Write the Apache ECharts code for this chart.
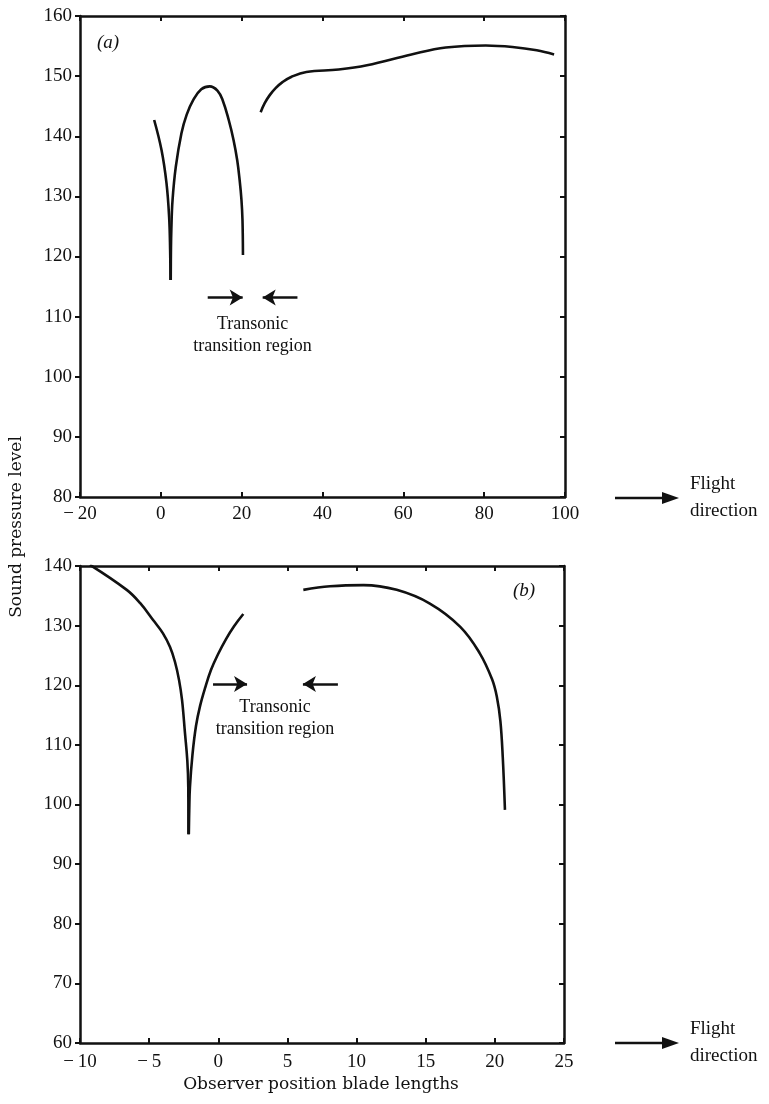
<!DOCTYPE html>
<html>
<head>
<meta charset="utf-8">
<title>Sound pressure level</title>
<script src="https://cdn.jsdelivr.net/npm/echarts@6/dist/echarts.min.js"></script>
<style>
html, body { margin: 0; padding: 0; background: #fff; }
#chart { width: 769px; height: 1104px; }
</style>
</head>
<body>
<div id="chart"></div>
<script>
// panel (a): observer position vs SPL
const aDip = [[-1.65, 142.7], [0.17, 137.7], [1.4, 132.2], [2.05, 126.6], [2.3, 121.1], [2.39, 116.1]]
const aArch = [[2.45, 116.1], [2.5, 121], [2.6, 124.5], [2.9, 129.4], [3.7, 134.9], [5.1, 140.5], [6.4, 143.6],
  [8.0, 146.0], [10.0, 147.8], [12.1, 148.3], [14.0, 147.6], [15.3, 146.0], [16.8, 142.7], [18.0, 139.35],
  [18.9, 136.0], [19.5, 132.7], [19.95, 129.4], [20.2, 126.1], [20.32, 120.25]]
const aFar = [[24.7, 144.0], [25.7, 145.5], [26.9, 146.8], [28.4, 148.0], [30.1, 149.0], [32.35, 149.9],
  [36, 150.7], [44, 151.1], [51, 151.8], [62, 153.6], [70.5, 154.75], [80.4, 155.1], [87, 154.85],
  [93, 154.3], [97.3, 153.6]]
const aArrows = [[11.6, 20.25, 113.2], [33.8, 25.2, 113.2]]

// panel (b)
const bDip = [[-9.28, 140.2], [-6.62, 136.0], [-5.66, 133.8], [-4.7, 130.9], [-4.0, 128.7], [-3.49, 126.4],
  [-3.13, 123.9], [-2.84, 120.9], [-2.62, 117.5], [-2.41, 112.0], [-2.24, 107.4], [-2.17, 102.9], [-2.16, 95]]
const bRise = [[-2.13, 95], [-2.1, 99], [-2.05, 102.9], [-1.87, 108.3], [-1.61, 113.2], [-1.32, 116.5],
  [-0.96, 119.5], [-0.53, 122.55], [-0.02, 125.2], [0.56, 127.75], [1.14, 129.9], [1.81, 131.95]]
const bFar = [[6.15, 136.0], [8.08, 136.6], [10.5, 136.8], [12.9, 136.0], [15.3, 133.7], [17.5, 129.8],
  [18.9, 125.4], [19.8, 121.0], [20.15, 118.0], [20.4, 114.0], [20.57, 108], [20.73, 99.1]]
const bArrows = [[-0.38, 2.08, 120.2], [8.65, 6.12, 120.2]]

const font = 'Liberation Serif'
const wideFont = 'DejaVu Serif'
const ink = '#111'

function fmt(v) {
  return v < 0 ? '\u2212\u2009' + Math.abs(v) : String(v)
}

function xAxes(grid, min, max, interval, margin) {
  return [
    {
      type: 'value', gridIndex: grid, min: min, max: max, interval: interval, position: 'bottom',
      axisLine: { onZero: false, lineStyle: { color: ink, width: 2.5 } },
      axisTick: { inside: true, length: 5, lineStyle: { color: ink, width: 2 } },
      axisLabel: { color: ink, fontFamily: font, fontSize: 19, margin: margin, formatter: fmt },
      splitLine: { show: false }
    },
    {
      type: 'value', gridIndex: grid, min: min, max: max, interval: interval, position: 'top',
      axisLine: { onZero: false, lineStyle: { color: ink, width: 2.5 } },
      axisTick: { inside: true, length: 5, lineStyle: { color: ink, width: 2 } },
      axisLabel: { show: false },
      splitLine: { show: false }
    }
  ]
}

function yAxes(grid, min, max) {
  return [
    {
      type: 'value', gridIndex: grid, min: min, max: max, interval: 10, position: 'left',
      axisLine: { onZero: false, lineStyle: { color: ink, width: 2.5 } },
      axisTick: { inside: false, length: 5, lineStyle: { color: ink, width: 2 } },
      axisLabel: { color: ink, fontFamily: font, fontSize: 19, margin: 8 },
      splitLine: { show: false }
    },
    {
      type: 'value', gridIndex: grid, min: min, max: max, interval: 10, position: 'right',
      axisLine: { onZero: false, lineStyle: { color: ink, width: 2.5 } },
      axisTick: { inside: true, length: 5, lineStyle: { color: ink, width: 2 } },
      axisLabel: { show: false },
      splitLine: { show: false }
    }
  ]
}

function curve(data, xi, yi, extra) {
  return Object.assign({
    type: 'line', data: data, xAxisIndex: xi, yAxisIndex: yi,
    showSymbol: false, smooth: 0.4, silent: true,
    lineStyle: { color: ink, width: 2.6 }
  }, extra || {})
}

function arrows(list) {
  return {
    silent: true, symbol: ['none', 'arrow'], symbolSize: [12, 13],
    label: { show: false },
    lineStyle: { color: ink, width: 2.5, type: 'solid' },
    data: list.map(a => [{ coord: [a[0], a[2]] }, { coord: [a[1], a[2]] }])
  }
}

let chart = echarts.init(document.getElementById('chart'))

let option = {
  animation: false,
  backgroundColor: '#fff',
  grid: [
    { left: 80, top: 16, width: 485, height: 481 },
    { left: 80, top: 566, width: 484, height: 477 }
  ],
  xAxis: xAxes(0, -20, 100, 20, 8).concat(xAxes(1, -10, 25, 5, 10)),
  yAxis: yAxes(0, 80, 160).concat(yAxes(1, 60, 140)),
  series: [
    curve(aDip, 0, 0, { markLine: arrows(aArrows) }),
    curve(aArch, 0, 0),
    curve(aFar, 0, 0),
    curve(bDip, 2, 2, { markLine: arrows(bArrows) }),
    curve(bRise, 2, 2),
    curve(bFar, 2, 2)
  ]
}
chart.setOption(option)

// annotation text anchored in data coordinates
const noteA = [22.7, 110.6]
const noteB = [4.1, 118.2]

function note(grid, pos) {
  let p = chart.convertToPixel({ gridIndex: grid }, pos)
  return {
    type: 'text', x: p[0], y: p[1], silent: true,
    style: {
      text: 'Transonic\ntransition region', fill: ink, font: '18px "' + font + '"',
      align: 'center', verticalAlign: 'top', lineHeight: 22
    }
  }
}

function flight(y) {
  return [
    {
      type: 'line', silent: true,
      shape: { x1: 615, y1: y, x2: 664, y2: y },
      style: { stroke: ink, lineWidth: 2.5 }
    },
    {
      type: 'polygon', silent: true,
      shape: { points: [[662, y - 6], [679, y], [662, y + 6]] },
      style: { fill: ink }
    },
    {
      type: 'text', x: 690, y: y - 27, silent: true,
      style: { text: 'Flight\ndirection', fill: ink, font: '19px "' + font + '"', lineHeight: 27 }
    }
  ]
}

let graphics = [
  note(0, noteA),
  note(1, noteB),
  {
    type: 'text', x: 8, y: 527, rotation: Math.PI / 2, silent: true,
    style: { text: 'Sound pressure level', fill: ink, font: '17px "' + wideFont + '"', align: 'center', verticalAlign: 'top' }
  },
  {
    type: 'text', x: 321, y: 1085, silent: true,
    style: { text: 'Observer position blade lengths', fill: ink, font: '17px "' + wideFont + '"', align: 'center', verticalAlign: 'middle' }
  },
  {
    type: 'text', x: 97, y: 33, silent: true,
    style: { text: '(a)', fill: ink, font: 'italic 19px "' + font + '"' }
  },
  {
    type: 'text', x: 513, y: 581, silent: true,
    style: { text: '(b)', fill: ink, font: 'italic 19px "' + font + '"' }
  }
].concat(flight(498), flight(1043))

chart.setOption({ graphic: graphics })
</script>
</body>
</html>
